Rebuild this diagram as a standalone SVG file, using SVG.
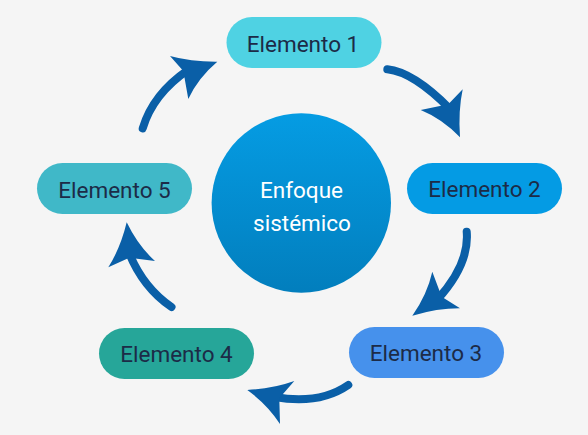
<svg xmlns="http://www.w3.org/2000/svg" width="588" height="435" viewBox="0 0 588 435">
<defs>
<linearGradient id="cg" x1="0" y1="0" x2="0" y2="1">
<stop offset="0" stop-color="#059CE3"/>
<stop offset="1" stop-color="#027EBD"/>
</linearGradient>
<style>
.lbl{font-family:Roboto,"Liberation Sans",sans-serif;font-size:22.5px;fill:#1C2B47;text-anchor:middle}
.ctr{font-family:Roboto,"Liberation Sans",sans-serif;font-size:22.5px;fill:#FFFFFF;text-anchor:middle}
.shaft{fill:none;stroke:#0A5FA7;stroke-width:8;stroke-linecap:round}
.head{fill:#0A5FA7}
</style>
</defs>
<rect width="588" height="435" fill="#F5F5F5"/>
<g id="connectors">
<path class="shaft" d="M142.7,128.3 Q153,94 188,70"/>
<path class="head" d="M217.3,61.7 Q191.1,61.9 170,56 L183.3,71 L188.3,99 Q197.9,78 217.3,61.7 Z"/>
<path class="shaft" d="M387.3,69.3 Q413.5,72 450,109"/>
<path class="head" d="M460,137.3 Q442.3,118.8 420.7,110 L448.3,104.3 L462.7,89.3 Q458.1,111 460,137.3 Z"/>
<path class="shaft" d="M466.7,231.7 Q469.6,264 437.5,299.4"/>
<path class="head" d="M412.3,315.7 Q427.2,294.5 432.3,271.7 L441.7,296.7 L460,308.3 Q437.5,308.2 412.3,315.7 Z"/>
<path class="shaft" d="M348.3,385 Q319.4,405 274.5,397"/>
<path class="head" d="M247.3,390 Q272.9,388.7 294.3,381 L279.3,398.3 L280,424 Q267.6,404.8 247.3,390 Z"/>
<path class="shaft" d="M171.5,307 Q143,287.5 129,252.7"/>
<path class="head" d="M126.7,222.3 Q120.5,248 108.3,267.3 L129.3,257.7 L155,261 Q138,245.7 126.7,222.3 Z"/>
</g>
<g id="center">
<circle cx="301.3" cy="203" r="89.7" fill="url(#cg)"/>
<text class="ctr" x="301.5" y="197.5">Enfoque</text>
<text class="ctr" x="302" y="231">sistémico</text>
</g>
<g id="n1">
<rect x="226.5" y="17" width="155" height="51" rx="25.5" fill="#4FD2E3"/>
<text class="lbl" x="303" y="51.5">Elemento 1</text>
</g>
<g id="n2">
<rect x="407" y="163" width="155" height="51" rx="25.5" fill="#049BE4"/>
<text class="lbl" x="484.5" y="197">Elemento 2</text>
</g>
<g id="n3">
<rect x="349" y="327" width="155" height="51" rx="25.5" fill="#4691EC"/>
<text class="lbl" x="426" y="361">Elemento 3</text>
</g>
<g id="n4">
<rect x="99" y="328" width="155" height="51" rx="25.5" fill="#26A699"/>
<text class="lbl" x="176.5" y="362">Elemento 4</text>
</g>
<g id="n5">
<rect x="37" y="163" width="155" height="51" rx="25.5" fill="#40B8C8"/>
<text class="lbl" x="114.5" y="197.5">Elemento 5</text>
</g>
</svg>
